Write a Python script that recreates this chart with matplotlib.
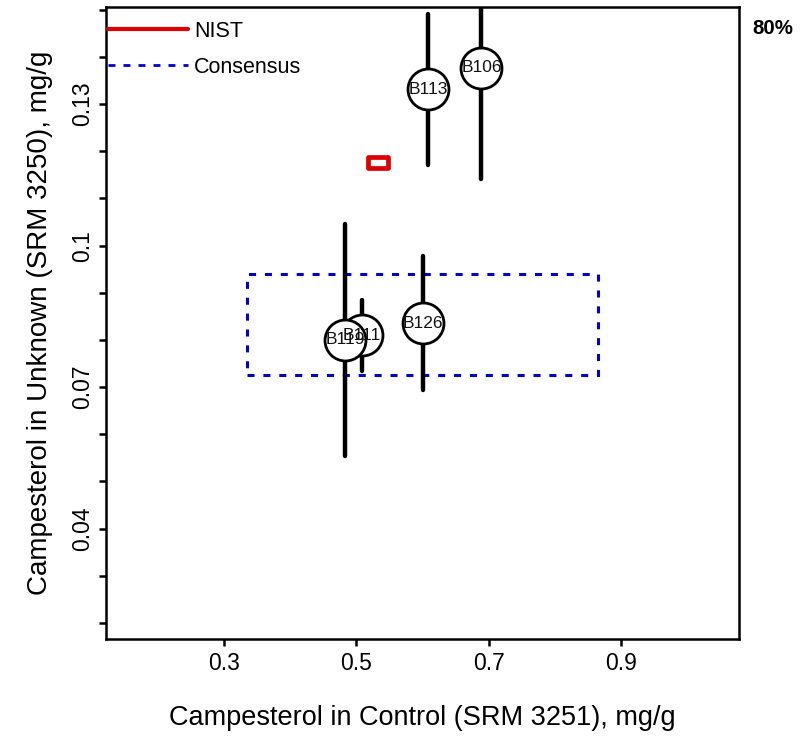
import matplotlib
matplotlib.use("Agg")
import matplotlib.pyplot as plt
from matplotlib.lines import Line2D
from matplotlib.patches import Rectangle

plt.rcParams['font.family'] = ['Liberation Sans', 'DejaVu Sans']

# ---- data ----
labs = ['B106', 'B111', 'B113', 'B119', 'B126']
xv = [0.689, 0.508, 0.608, 0.483, 0.600]
yv = [0.1377, 0.0810, 0.1332, 0.0800, 0.0836]
yhalf = [0.0235, 0.0075, 0.0160, 0.0246, 0.0142]

nist_x, nist_y = 0.5325, 0.1176
nist_dx, nist_dy = 0.0146, 0.0012

cons_x0, cons_x1 = 0.335, 0.865
cons_y0, cons_y1 = 0.0726, 0.0940

xticks = [0.3, 0.5, 0.7, 0.9]
yticks = [0.02, 0.03, 0.04, 0.05, 0.06, 0.07, 0.08, 0.09, 0.10,
          0.11, 0.12, 0.13, 0.14, 0.15]
ylabels_shown = {0.04: '0.04', 0.07: '0.07', 0.10: '0.1', 0.13: '0.13'}

red = '#DD0000'
blue = '#0000D0'

fig = plt.figure(figsize=(8.02, 7.36), dpi=100)
ax = fig.add_axes([105.5/802, 1-639/736, (739-105.5)/802, (639-7)/736])
ax.set_xlim(0.121, 1.078)
ax.set_ylim(0.0166, 0.1506)

# consensus box
ax.add_patch(Rectangle((cons_x0, cons_y0), cons_x1-cons_x0, cons_y1-cons_y0,
                       fill=False, ec=blue, lw=2.2, ls=(0, (2.3, 2.9)), zorder=2))
# NIST box
ax.add_patch(Rectangle((nist_x-nist_dx, nist_y-nist_dy), 2*nist_dx, 2*nist_dy,
                       fill=False, ec=red, lw=3.4, joinstyle='round', zorder=2))

# error bars
for x, y, h in zip(xv, yv, yhalf):
    ax.plot([x, x], [y-h, y+h], color='black', lw=3.2,
            solid_capstyle='round', zorder=3)
# circles
for x, y in zip(xv, yv):
    ax.plot([x], [y], 'o', ms=29.5, mfc='white', mec='black', mew=2.0, zorder=4)
# labels
for x, y, t in zip(xv, yv, labs):
    ax.text(x, y, t, ha='center', va='center', fontsize=12.5, color='#111111', zorder=5)

# axes style
for s in ax.spines.values():
    s.set_linewidth(1.8)
ax.set_xticks(xticks)
ax.set_xticklabels([f'{v:g}' for v in xticks])
ax.set_yticks(yticks)
ax.set_yticklabels([ylabels_shown.get(round(v, 2), '') for v in yticks],
                   rotation=90, va='center')
ax.tick_params(axis='both', length=5, width=1.8, labelsize=16.5, pad=4)
ax.tick_params(axis='y', pad=3)

ax.set_xlabel('Campesterol in Control (SRM 3251), mg/g', fontsize=19.5, labelpad=22)
ax.set_ylabel('Campesterol in Unknown (SRM 3250), mg/g', fontsize=20, labelpad=13)

handles = [Line2D([], [], color=red, lw=3.0, solid_capstyle='round'),
           Line2D([], [], color=blue, lw=2.0, ls=(0, (2.5, 2.9)))]
ax.legend(handles, ['NIST', 'Consensus'], loc='upper left', bbox_to_anchor=(0.0, 0.982),
          frameon=False, fontsize=15.5, handlelength=3.7, handletextpad=0.28,
          labelspacing=0.7, borderaxespad=0.0, borderpad=0.12)

fig.text(752/802, 1-29/736, '80%', fontsize=14.8, fontweight='bold', ha='left', va='center')

fig.savefig('out.png', dpi=100)
